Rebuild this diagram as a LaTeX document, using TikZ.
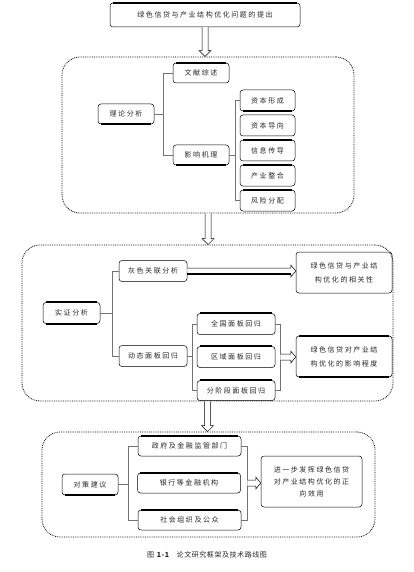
\documentclass[tikz,border=0pt]{standalone}
\usepackage{fontspec}
\newfontfamily\cjk[LetterSpace=22]{Noto Sans CJK SC}
\newfontfamily\cjkcap[LetterSpace=8]{Noto Sans CJK SC}
\usetikzlibrary{calc}

\begin{document}
\begin{tikzpicture}[x=1pt, y=-1pt,
        box/.style={draw, rounded corners=3pt, line width=.5pt, inner sep=0pt, align=center,
            text=black!85, font=\cjk\fontsize{7}{14}\selectfont},
        frame/.style={draw, densely dotted, line width=.8pt, rounded corners=18pt, inner sep=0pt},
        brk/.style={draw=black!55, line width=.5pt},
        bar/.style={line width=1.6pt},
        hollow/.style={line width=.5pt, fill=white, to path={let \p1=(\tikztostart), \p2=(\tikztotarget) in
            (\x1-3pt,\y1) -- (\x1-3pt,\y2+6pt) -- (\x1-6pt,\y2+6pt) -- (\x1,\y2)
            -- (\x1+6pt,\y2+6pt) -- (\x1+3pt,\y2+6pt) -- (\x1+3pt,\y1)}},
        hollowr/.style={line width=.5pt, fill=white, to path={let \p1=(\tikztostart), \p2=(\tikztotarget) in
            (\x1,\y1+3pt) -- (\x2-5pt,\y1+3pt) -- (\x2-5pt,\y1+6pt) -- (\x2,\y1)
            -- (\x2-5pt,\y1-6pt) -- (\x2-5pt,\y1-3pt) -- (\x1,\y1-3pt)}}]
    \useasboundingbox (0,0) rectangle (414,572);

    % problem
    \node[box, minimum width=190pt, minimum height=24pt] (top) at (205,15) {绿色信贷与产业结构优化问题的提出};

    % theory
    \node[frame, minimum width=292pt, minimum height=156pt] (c1) at (208,135) {};
    \node[box, minimum width=56pt, minimum height=20pt] (theory) at (126,114) {理论分析};
    \node[box, minimum width=56pt, minimum height=20pt] (lit) at (201,73) {文献综述};
    \node[box, minimum width=56pt, minimum height=20pt] (mech) at (201,155) {影响机理};
    \node[box, minimum width=55pt, minimum height=21pt] (m1) at (267.5,100.5) {资本形成};
    \node[box, minimum width=55pt, minimum height=21pt] (m2) at (267.5,125.5) {资本导向};
    \node[box, minimum width=55pt, minimum height=21pt] (m3) at (267.5,150.5) {信息传导};
    \node[box, minimum width=55pt, minimum height=21pt] (m4) at (267.5,175.5) {产业整合};
    \node[box, minimum width=55pt, minimum height=21pt] (m5) at (267.5,200.5) {风险分配};
    \draw[brk] (lit.west) -- ++(-10,0) coordinate (b1) |- (mech.west);
    \draw[brk] (theory.east) -- (theory.east -| b1);
    \draw[brk] (m1.west) -- ++(-5,0) coordinate (b2) |- (m5.west);
    \draw[brk] (mech.east) -- (mech.east -| b2);

    % empirical
    \node[frame, minimum width=371pt, minimum height=156pt] (c2) at (207.5,323) {};
    \node[box, minimum width=57pt, minimum height=21pt] (emp) at (71.5,313) {实证分析};
    \node[box, minimum width=68pt, minimum height=21pt] (grey) at (153,271) {灰色关联分析};
    \node[box, minimum width=68pt, minimum height=21pt] (dyn) at (153,356) {动态面板回归};
    \node[box, minimum width=96pt, minimum height=41pt] (res1) at (344,272.5) {绿色信贷与产业结\\构优化的相关性};
    \node[box, minimum width=78pt, minimum height=21pt] (p1) at (236,324) {全国面板回归};
    \node[box, minimum width=78pt, minimum height=21pt] (p2) at (236,357) {区域面板回归};
    \node[box, minimum width=78pt, minimum height=20pt] (p3) at (236,390.5) {分阶段面板回归};
    \node[box, minimum width=96pt, minimum height=41pt] (res2) at (344,356.5) {绿色信贷对产业结\\构优化的影响程度};
    \draw[brk] (grey.west) -- ++(-7,0) coordinate (b3) |- (dyn.west);
    \draw[brk] (emp.east) -- (emp.east -| b3);
    \draw[brk] (p1.west) -- ++(-5,0) coordinate (b4) |- (p3.west);
    \draw[brk] (dyn.east) -- (dyn.east -| b4);
    \draw[brk] (p1.east) -- ++(5,0) coordinate (b5) |- (p3.east);
    \draw[hollowr] (grey.east) to (grey.east -| res1.west);
    \draw[bar, shorten >=5pt] ([yshift=-3pt]grey.east) -- ([yshift=-3pt]grey.east -| res1.west);
    \draw[hollowr] (p2.east -| b5) to (res2.west);

    % policy
    \node[frame, minimum width=333pt, minimum height=105pt] (c3) at (208.5,484.5) {};
    \node[box, minimum width=56pt, minimum height=21pt] (adv) at (90,484.5) {对策建议};
    \node[box, minimum width=103pt, minimum height=20pt] (gov) at (189.5,446) {政府及金融监管部门};
    \node[box, minimum width=103pt, minimum height=20pt] (bank) at (189,483) {银行等金融机构};
    \node[box, minimum width=103pt, minimum height=20pt] (soc) at (189.5,520) {社会组织及公众};
    \node[box, minimum width=101pt, minimum height=51pt, font=\cjk\fontsize{7}{12}\selectfont] (res3) at (311.5,481.5)
        {进一步发挥绿色信贷\\对产业结构优化的正\\向效用};
    \draw[brk] (gov.west) -- ++(-10,0) coordinate (b6) |- (soc.west);
    \draw[brk] (adv.east) -- (adv.east -| b6);
    \draw[brk] (gov.east) -- ++(6,0) coordinate (b7) |- (soc.east);
    \draw[hollowr] (bank.east -| b7) to (res3.west);

    % flow between stages
    \draw[hollow] (top.south) to (top.south |- c1.north);
    \draw[hollow] (c1.south) to (c1.south |- c2.north);
    \draw[hollow] (c2.south) to (c2.south |- c3.north);

    % heavy edges
    \foreach \n in {top, lit, m3, m4, m5, emp, p1, p2, p3, res2, gov, bank, soc}
        \draw[bar] ([xshift=3pt]\n.north west) -- ([xshift=-3pt]\n.north east);
    \foreach \n in {theory, mech, m1, emp, res2, adv}
        \draw[bar] ([xshift=3pt]\n.south west) -- ([xshift=-3pt]\n.south east);

    \node[text=black!85, font=\cjkcap\fontsize{7}{8}\selectfont] (cap) at (207,555)
        {图 \textbf{1-1}\quad 论文研究框架及技术路线图};
\end{tikzpicture}
\end{document}
